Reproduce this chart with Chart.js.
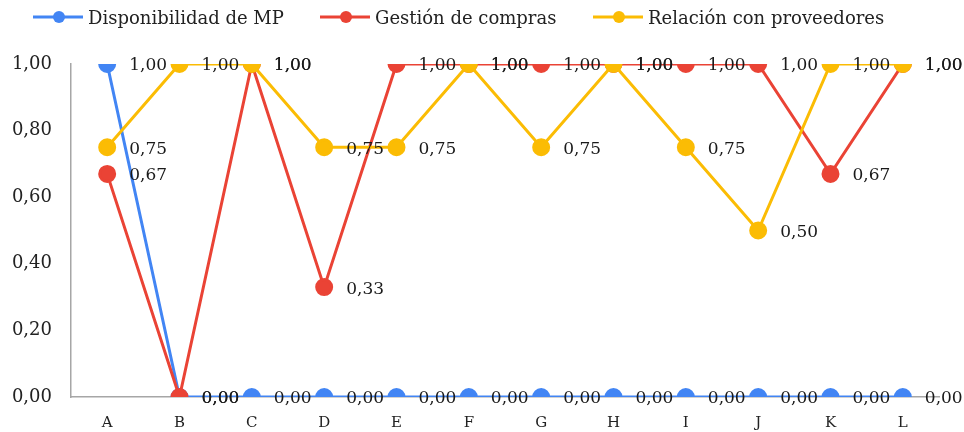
<!DOCTYPE html>
<html><head><meta charset="utf-8">
<script src="https://cdn.jsdelivr.net/npm/chart.js@4.4.1/dist/chart.umd.min.js"></script>
<style>html,body{margin:0;padding:0;background:#fff}#wrap{width:964px;height:432px;position:relative}</style>
</head><body><div id="wrap"><canvas id="c"></canvas></div>
<script>
const categories = ['A','B','C','D','E','F','G','H','I','J','K','L'];
const seriesNames = ['Disponibilidad de MP','Gestión de compras','Relación con proveedores'];
const disponibilidad = [1,0,0,0,0,0,0,0,0,0,0,0];
const gestion = [0.67,0,1,0.33,1,1,1,1,1,1,0.67,1];
const relacion = [0.75,1,1,0.75,0.75,1,0.75,1,0.75,0.5,1,1];
const yTickValues = [0,0.2,0.4,0.6,0.8,1];
const seriesColors = ['#4285F4','#EA4335','#FBBC04'];

const fmt = v => v.toFixed(2).replace('.', ',');
const SERIF = '"DejaVu Serif", "Liberation Serif", serif';

// data labels drawn to the right of each point
const dataLabelPlugin = {
  id: 'dataLabels',
  afterDatasetsDraw(chart){
    const ctx = chart.ctx;
    ctx.save();
    ctx.font = '17px ' + SERIF;
    ctx.fillStyle = '#1a1a1a';
    ctx.textBaseline = 'middle';
    ctx.textAlign = 'left';
    chart.data.datasets.forEach((ds, i) => {
      const meta = chart.getDatasetMeta(i);
      meta.data.forEach((pt, j) => {
        ctx.fillText(fmt(ds.data[j]), pt.x + 22, pt.y + 2);
      });
    });
    ctx.restore();
  }
};

// legend: line + circle marker, serif text
const legendStarts = [33, 320, 593];
const legendPlugin = {
  id: 'lineLegend',
  afterDraw(chart){
    const ctx = chart.ctx;
    ctx.save();
    ctx.font = '18px ' + SERIF;
    ctx.textBaseline = 'middle';
    ctx.textAlign = 'left';
    chart.data.datasets.forEach((ds, i) => {
      const x = legendStarts[i], y = 17;
      ctx.strokeStyle = ds.borderColor;
      ctx.lineWidth = 3;
      ctx.beginPath(); ctx.moveTo(x, y); ctx.lineTo(x + 50, y); ctx.stroke();
      ctx.fillStyle = ds.borderColor;
      ctx.beginPath(); ctx.arc(x + 26, y, 6, 0, Math.PI * 2); ctx.fill();
      ctx.fillStyle = '#222';
      ctx.fillText(ds.label, x + 55, y + 2);
    });
    ctx.restore();
  }
};

const seriesData = [disponibilidad, gestion, relacion];
const datasets = seriesData.map((d, i) => ({
  label: seriesNames[i],
  data: d,
  borderColor: seriesColors[i],
  backgroundColor: seriesColors[i],
  pointBackgroundColor: seriesColors[i],
  pointBorderColor: seriesColors[i],
  borderWidth: 3,
  pointRadius: 7.5,
  pointHoverRadius: 7.5,
  tension: 0,
  order: 3 - i
}));

new Chart(document.getElementById('c'), {
  type: 'line',
  data: { labels: categories, datasets },
  options: {
    responsive: true,
    maintainAspectRatio: false,
    animation: false,
    events: [],
    layout: { padding: { top: 64, right: 25, left: 0, bottom: 0 } },
    plugins: {
      tooltip: { enabled: false },
      legend: { display: false }
    },
    scales: {
      x: {
        offset: true,
        grid: { display: false, drawTicks: false },
        border: { display: true, color: '#a6a6a6', width: 1.5 },
        ticks: { color: '#222', font: { family: SERIF, size: 15 }, padding: 17 },
        afterFit: s => { s.height = 35; }
      },
      y: {
        min: 0, max: 1,
        afterBuildTicks: s => { s.ticks = yTickValues.map(v => ({ value: v })); },
        grid: { display: false, drawTicks: false },
        border: { display: true, color: '#a6a6a6', width: 1.5 },
        ticks: { color: '#222', font: { family: SERIF, size: 18 }, padding: 19, callback: v => fmt(v) },
        afterFit: s => { s.width = 71; }
      }
    }
  },
  plugins: [dataLabelPlugin, legendPlugin]
});
</script>
</body></html>
